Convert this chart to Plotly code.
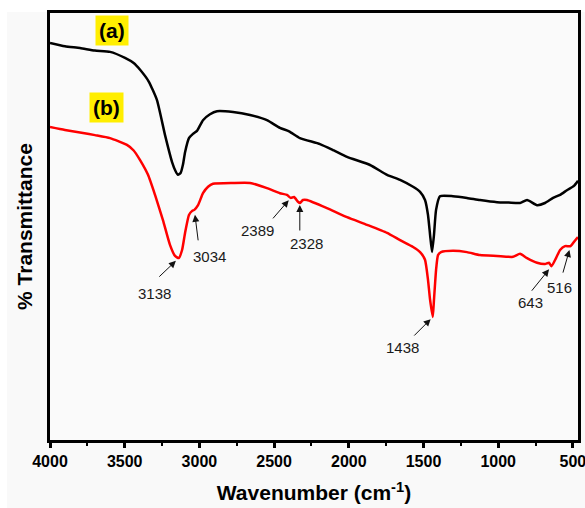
import numpy as np
import plotly.graph_objects as go

# FTIR spectra: wavenumber (cm^-1) and % transmittance (arbitrary offset scale)
wn_a = [4000, 3900, 3799, 3700, 3598, 3498, 3440, 3397, 3340, 3284, 3230, 3183,
        3160, 3143, 3125, 3110, 3096, 3070, 3043, 3016, 2976, 2929, 2882, 2775,
        2661, 2548, 2461, 2400, 2327, 2193, 2100, 2012, 1858, 1744, 1657, 1570,
        1523, 1490, 1470, 1456, 1443, 1430, 1416, 1390, 1303, 1209, 1122, 1008,
        930, 854, 807, 740, 687, 633, 586, 540, 493, 466]
tr_a = [93.0, 92.2, 91.8, 91.2, 90.9, 89.5, 88.3, 86.7, 84.0, 79.6, 71.4, 65.1,
        63.0, 62.1, 62.6, 64.5, 67.4, 70.7, 71.7, 72.4, 74.9, 76.3, 77.0, 76.8,
        76.1, 74.9, 73.1, 72.3, 70.7, 69.3, 67.8, 66.3, 64.4, 62.1, 60.9, 59.3,
        58.1, 56.2, 52.7, 48.0, 44.0, 48.0, 53.9, 57.1, 57.1, 56.7, 56.2, 55.7,
        55.6, 55.5, 56.2, 55.0, 55.5, 56.7, 57.4, 58.5, 59.5, 60.7]

wn_b = [4000, 3900, 3779, 3699, 3598, 3485, 3440, 3398, 3344, 3297, 3244, 3197,
        3163, 3138, 3116, 3096, 3070, 3050, 3034, 3009, 2976, 2942, 2909, 2775,
        2661, 2548, 2461, 2414, 2389, 2367, 2340, 2328, 2307, 2280, 2146, 2012,
        1878, 1744, 1657, 1570, 1523, 1490, 1470, 1456, 1438, 1430, 1416, 1403,
        1383, 1303, 1209, 1122, 1008, 901, 854, 807, 740, 687, 660, 643, 613,
        586, 553, 516, 493, 466]
tr_b = [73.3, 72.6, 71.9, 71.4, 70.7, 69.1, 67.8, 65.6, 62.1, 57.4, 51.5, 45.7,
        43.1, 42.6, 44.5, 48.5, 52.7, 53.6, 53.9, 55.0, 57.8, 59.3, 60.0, 60.2,
        60.2, 59.0, 57.8, 57.4, 56.7, 56.9, 55.8, 55.5, 56.2, 56.2, 54.3, 52.2,
        50.4, 48.5, 46.8, 45.2, 44.0, 42.2, 37.5, 32.8, 28.8, 32.8, 39.8, 43.3,
        44.0, 44.3, 44.0, 43.3, 43.1, 42.9, 43.6, 42.6, 41.5, 41.2, 41.5, 40.7,
        42.6, 44.5, 45.4, 45.4, 46.4, 47.5]

# Marked bands on spectrum (b)
peak_wn = [3138, 3034, 2389, 2328, 1438, 643, 516]
peak_labels = ["3138", "3034", "2389", "2328", "1438", "643", "516"]

# arrow tail offsets (px), arrow standoff (px), label offsets (px) per band
arrow_ax = [-21, 4, -19, 0, -20, -21, -8]
arrow_ay = [20, 32, 22, 29, 20, 26, 28]
arrow_standoff = [4, 5, 3, 2, 3, 4, 4]
label_dx = [-24, 15, -33, 7, -30, -21, -11]
label_dy = [-35, -47, -33, -40, -30, -36, -41]

fig = go.Figure()
fig.add_trace(go.Scatter(x=wn_a, y=tr_a, mode="lines", name="(a)",
                         line=dict(color="#000000", width=2.5, shape="spline",
                                   smoothing=0.5), showlegend=False))
fig.add_trace(go.Scatter(x=wn_b, y=tr_b, mode="lines", name="(b)",
                         line=dict(color="#ff0000", width=2.5, shape="spline",
                                   smoothing=0.5), showlegend=False))

order = np.argsort(wn_b)
wn_sorted = np.array(wn_b)[order]
tr_sorted = np.array(tr_b)[order]

annotations = []
for i, w in enumerate(peak_wn):
    yv = float(np.interp(w, wn_sorted, tr_sorted))
    annotations.append(dict(
        x=w, y=yv, xref="x", yref="y", text="", showarrow=True,
        ax=arrow_ax[i], ay=arrow_ay[i], arrowhead=2, arrowsize=1.4,
        arrowwidth=1, arrowcolor="#111111", standoff=arrow_standoff[i]))
    annotations.append(dict(
        x=w, y=yv, xref="x", yref="y", text=peak_labels[i], showarrow=False,
        xshift=label_dx[i], yshift=label_dy[i],
        font=dict(family="Liberation Sans, Arial", size=15, color="#1a1a1a")))

# spectrum tags
for tag, w, t in [("(a)", 3585, 95.8), ("(b)", 3625, 77.8)]:
    annotations.append(dict(
        x=w, y=t, xref="x", yref="y", text="<b>%s</b>" % tag, showarrow=False,
        bgcolor="#ffee00", borderpad=3,
        font=dict(family="Liberation Sans, Arial", size=21, color="#000000")))

fig.update_layout(
    width=585, height=508,
    margin=dict(l=50, r=7, t=13, b=68),
    paper_bgcolor="#f9f9f9",
    plot_bgcolor="#fafafa",
    annotations=annotations,
    shapes=[
        dict(type="rect", xref="paper", yref="paper", x0=-0.1, x1=1.02,
             y0=1.0023, y1=1.04, fillcolor="#ffffff", line=dict(width=0), layer="below"),
        dict(type="rect", xref="paper", yref="paper", x0=-0.1, x1=-0.0814,
             y0=-0.2, y1=1.04, fillcolor="#ffffff", line=dict(width=0), layer="below"),
    ],
    xaxis=dict(
        range=[4000, 466], tick0=500, dtick=500,
        showline=True, linewidth=3, linecolor="#000000", mirror=True,
        ticks="outside", ticklen=5, tickwidth=3, tickcolor="#000000",
        minor=dict(dtick=250, tick0=500, ticks="outside", ticklen=3, tickwidth=2,
                   tickcolor="#000000"),
        showgrid=False, zeroline=False, automargin=False,
        ticklabeloverflow="allow",
        tickfont=dict(family="Liberation Sans, Arial", size=16, color="#000000",
                      weight="bold"),
        title=dict(text="<b>Wavenumber (cm<sup>-1</sup>)</b>", standoff=17,
                   font=dict(family="Liberation Sans, Arial", size=21, color="#000000")),
    ),
    yaxis=dict(
        range=[0, 100], showticklabels=False, ticks="",
        showline=True, linewidth=3, linecolor="#000000", mirror=True,
        showgrid=False, zeroline=False, automargin=False,
        title=dict(text="<b>% Transmittance</b>", standoff=9,
                   font=dict(family="Liberation Sans, Arial", size=21, color="#000000")),
    ),
)

fig.write_html("out.html")
